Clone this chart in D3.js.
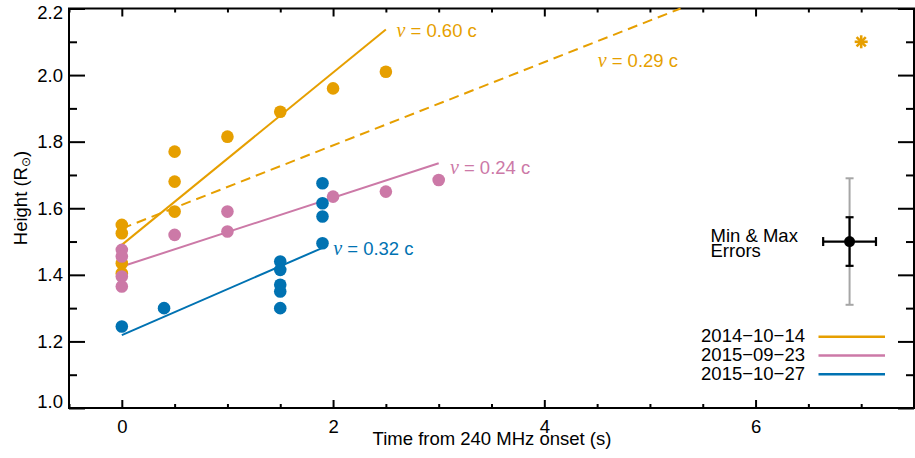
<!DOCTYPE html>
<html><head><meta charset="utf-8">
<script src="https://cdn.jsdelivr.net/npm/d3@7"></script>
<style>
body{margin:0;background:#fff}
svg{display:block}
text{font-family:"Liberation Sans",Arial,Helvetica,sans-serif;fill:#000}
</style>
</head><body>
<svg id="chart" width="915" height="458"></svg>
<script>
// ---------------- data ----------------
const seriesNames  = ["2014\u221210\u221214", "2015\u221209\u221223", "2015\u221210\u221227"];
const seriesColors = ["#E69F00", "#CC79A7", "#0072B2"];

// time (s) and height (R_sun) of each measurement
const t2014 = [0, 0, 0, 0, 0.5, 0.5, 0.5, 1.0, 1.5, 2.0, 2.5];
const h2014 = [1.55, 1.525, 1.435, 1.405, 1.77, 1.68, 1.59, 1.815, 1.89, 1.96, 2.01];
const t2015a = [0, 0, 0, 0, 0.5, 1.0, 1.0, 2.0, 2.5, 3.0];
const h2015a = [1.475, 1.455, 1.395, 1.365, 1.52, 1.53, 1.59, 1.635, 1.65, 1.685];
const t2015b = [0, 0.4, 1.5, 1.5, 1.5, 1.5, 1.5, 1.9, 1.9, 1.9, 1.9];
const h2015b = [1.245, 1.30, 1.44, 1.415, 1.37, 1.35, 1.30, 1.495, 1.575, 1.615, 1.675];

// isolated point (asterisk) of 2014-10-14
const starT = [7.0];
const starH = [2.10];

// linear fits: series index, start/end
const fitSeries = [0, 0, 1, 2];
const fitT0 = [0, 0, 0, 0];
const fitH0 = [1.49, 1.539, 1.425, 1.219];
const fitT1 = [2.5, 5.29, 3.0, 1.9];
const fitH1 = [2.137, 2.2, 1.735, 1.481];
const fitDashed = [false, true, false, false];
const fitSpeeds = ["0.60", "0.29", "0.24", "0.32"];

// representative error bars
const errT = [6.89];
const errH = [1.50];
const errDt = [0.25];
const errDhMin = [0.073];
const errDhMax = [0.19];

// axes
const xMajorTicks = [0, 2, 4, 6];
const yMajorTicks = [1.0, 1.2, 1.4, 1.6, 1.8, 2.0, 2.2];
const xDomain = [-0.5, 7.5];
const yDomain = [1.0, 2.2];
const xTitle = "Time from 240 MHz onset (s)";

// ---------------- drawing ----------------
const svg = d3.select("#chart");
const L = 69, R = 914, T = 8.5, B = 408;
const x = d3.scaleLinear().domain(xDomain).range([L, R]);
const y = d3.scaleLinear().domain(yDomain).range([B, T]);
const FS = 18.5;

const xMinor = d3.range(0, 17).map(i => -0.5 + i * 0.5).filter(v => !xMajorTicks.includes(v));
const yMinor = d3.range(10, 23).map(i => i / 10).filter(v => !yMajorTicks.some(m => Math.abs(m - v) < 1e-9));

function styleAxis(g) {
  g.select(".domain").remove();
  g.selectAll(".tick line").attr("stroke", "#000").attr("stroke-width", 2);
  g.selectAll(".tick text").attr("font-size", FS).attr("font-family", "Liberation Sans, Arial, sans-serif").attr("fill", "#000");
}

// bottom
svg.append("g").attr("transform", `translate(0,${B})`)
  .call(d3.axisBottom(x).tickValues(xMinor).tickSizeInner(-4).tickSizeOuter(0).tickFormat(""))
  .call(styleAxis);
svg.append("g").attr("transform", `translate(0,${B})`)
  .call(d3.axisBottom(x).tickValues(xMajorTicks).tickSizeInner(-8).tickSizeOuter(0).tickPadding(12).tickFormat(d3.format("d")))
  .call(styleAxis);
// top
svg.append("g").attr("transform", `translate(0,${T})`)
  .call(d3.axisTop(x).tickValues(xMinor).tickSizeInner(-4).tickSizeOuter(0).tickFormat(""))
  .call(styleAxis);
svg.append("g").attr("transform", `translate(0,${T})`)
  .call(d3.axisTop(x).tickValues(xMajorTicks).tickSizeInner(-8).tickSizeOuter(0).tickFormat(""))
  .call(styleAxis);
// left
svg.append("g").attr("transform", `translate(${L},0)`)
  .call(d3.axisLeft(y).tickValues(yMinor).tickSizeInner(-8).tickSizeOuter(0).tickFormat(""))
  .call(styleAxis);
const yAxisG = svg.append("g").attr("transform", `translate(${L},0)`)
  .call(d3.axisLeft(y).tickValues(yMajorTicks).tickSizeInner(-16).tickSizeOuter(0).tickPadding(6).tickFormat(d3.format(".1f")))
  .call(styleAxis);
// extreme labels sit slightly inside the frame
yAxisG.selectAll(".tick text").attr("y", d => d === yDomain[1] ? 4 : (d === yDomain[0] ? -6 : 0));
// right
svg.append("g").attr("transform", `translate(${R},0)`)
  .call(d3.axisRight(y).tickValues(yMinor).tickSizeInner(-8).tickSizeOuter(0).tickFormat(""))
  .call(styleAxis);
svg.append("g").attr("transform", `translate(${R},0)`)
  .call(d3.axisRight(y).tickValues(yMajorTicks).tickSizeInner(-16).tickSizeOuter(0).tickFormat(""))
  .call(styleAxis);

// frame
svg.append("rect").attr("x", L).attr("y", T).attr("width", R - L).attr("height", B - T)
  .attr("fill", "none").attr("stroke", "#000").attr("stroke-width", 2);

// axis titles
svg.append("text").attr("x", (L + R) / 2 + 0.5).attr("y", 445).attr("text-anchor", "middle")
  .attr("font-size", FS).text(xTitle);
const yt = svg.append("text").attr("transform", "translate(27,198) rotate(-90)")
  .attr("text-anchor", "middle").attr("font-size", FS);
yt.append("tspan").text("Height (R");
yt.append("tspan").attr("font-size", 12).attr("dy", 3).attr("font-family", "DejaVu Sans").text("\u2299");
yt.append("tspan").attr("dy", -3).text(")");

// fit lines
const fits = fitSeries.map((s, i) => ({ s, t0: fitT0[i], h0: fitH0[i], t1: fitT1[i], h1: fitH1[i], dashed: fitDashed[i] }));
svg.append("g").selectAll("line").data(fits).join("line")
  .attr("x1", d => x(d.t0)).attr("y1", d => y(d.h0))
  .attr("x2", d => x(d.t1)).attr("y2", d => y(d.h1))
  .attr("stroke", d => seriesColors[d.s]).attr("stroke-width", 2)
  .attr("stroke-dasharray", d => d.dashed ? "10,6" : null);

// points
const pts = [
  { s: 0, t: t2014, h: h2014 },
  { s: 1, t: t2015a, h: h2015a },
  { s: 2, t: t2015b, h: h2015b }
];
pts.forEach(p => {
  svg.append("g").selectAll("circle").data(p.t.map((t, i) => [t, p.h[i]])).join("circle")
    .attr("cx", d => x(d[0])).attr("cy", d => y(d[1])).attr("r", 6.3)
    .attr("fill", seriesColors[p.s]);
});

// asterisk
starT.forEach((t, i) => {
  const cx = x(t), cy = y(starH[i]), r = 6.5;
  const g = svg.append("g").attr("stroke", seriesColors[0]).attr("stroke-width", 2.6);
  [0, 45, 90, 135].forEach(a => {
    const rad = a * Math.PI / 180;
    g.append("line").attr("x1", cx - r * Math.cos(rad)).attr("y1", cy - r * Math.sin(rad))
      .attr("x2", cx + r * Math.cos(rad)).attr("y2", cy + r * Math.sin(rad));
  });
});

// velocity labels
const labelPos = [[2.60, 2.115], [4.505, 2.025], [3.106, 1.702], [2.001, 1.461]];
fitSpeeds.forEach((v, i) => {
  const tx = svg.append("text").attr("x", x(labelPos[i][0])).attr("y", y(labelPos[i][1]))
    .attr("font-size", FS).attr("fill", seriesColors[fitSeries[i]]);
  tx.append("tspan").attr("font-family", "Liberation Serif, Times New Roman, serif").attr("font-style", "italic")
    .attr("font-size", 20).attr("fill", seriesColors[fitSeries[i]]).text("\u03bd");
  tx.append("tspan").attr("fill", seriesColors[fitSeries[i]]).text(" = " + v + " c");
});

// error bar symbol
errT.forEach((t, i) => {
  const cx = x(t), cy = y(errH[i]);
  const g = svg.append("g");
  const yTopMax = y(errH[i] + errDhMax[i]), yBotMax = y(errH[i] - errDhMax[i]);
  const yTopMin = y(errH[i] + errDhMin[i]), yBotMin = y(errH[i] - errDhMin[i]);
  const x0 = x(t - errDt[i]), x1 = x(t + errDt[i]);
  const gray = "#A6A6A6";
  g.append("line").attr("x1", cx).attr("x2", cx).attr("y1", yTopMax).attr("y2", yBotMax).attr("stroke", gray).attr("stroke-width", 2);
  [yTopMax, yBotMax].forEach(yy => g.append("line").attr("x1", cx - 4).attr("x2", cx + 4).attr("y1", yy).attr("y2", yy).attr("stroke", gray).attr("stroke-width", 2));
  g.append("line").attr("x1", cx).attr("x2", cx).attr("y1", yTopMin).attr("y2", yBotMin).attr("stroke", "#000").attr("stroke-width", 2.2);
  [yTopMin, yBotMin].forEach(yy => g.append("line").attr("x1", cx - 4).attr("x2", cx + 4).attr("y1", yy).attr("y2", yy).attr("stroke", "#000").attr("stroke-width", 2.2));
  g.append("line").attr("x1", x0).attr("x2", x1).attr("y1", cy).attr("y2", cy).attr("stroke", "#000").attr("stroke-width", 2.2);
  [x0, x1].forEach(xx => g.append("line").attr("x1", xx).attr("x2", xx).attr("y1", cy - 4.5).attr("y2", cy + 4.5).attr("stroke", "#000").attr("stroke-width", 2.2));
  g.append("circle").attr("cx", cx).attr("cy", cy).attr("r", 5.5).attr("fill", "#000");
});
const eLab = svg.append("text").attr("font-size", FS);
eLab.append("tspan").attr("x", 710.5).attr("y", 242.3).text("Min & Max");
eLab.append("tspan").attr("x", 710.5).attr("y", 256.7).text("Errors");

// legend
const leg = svg.append("g");
seriesNames.forEach((n, i) => {
  const ly = 336.7 + i * 18.8;
  leg.append("text").attr("x", 805).attr("y", ly + 5.6).attr("text-anchor", "end").attr("font-size", FS).text(n);
  leg.append("line").attr("x1", 818.5).attr("x2", 885).attr("y1", ly).attr("y2", ly)
    .attr("stroke", seriesColors[i]).attr("stroke-width", 2.5);
});
</script>
</body></html>
